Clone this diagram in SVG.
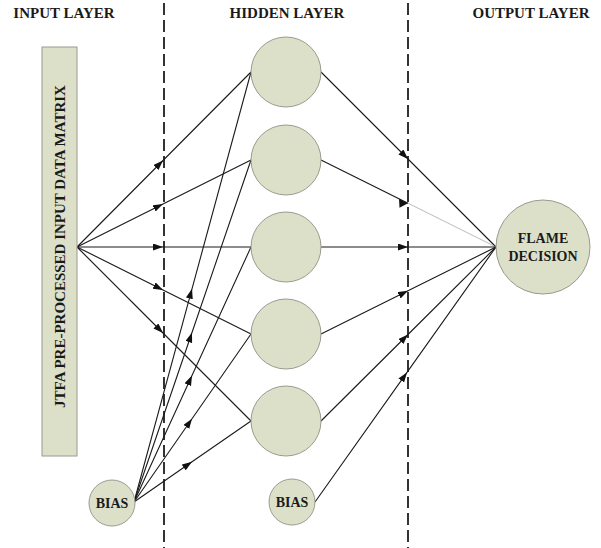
<svg xmlns="http://www.w3.org/2000/svg" width="601" height="548" viewBox="0 0 601 548">
<style>
  .hdr{font-family:"Liberation Serif","Times New Roman",serif;font-weight:bold;font-size:15px;fill:#1a1a1a;text-anchor:middle}
  .lbl{font-family:"Liberation Serif","Times New Roman",serif;font-weight:bold;font-size:14px;fill:#1a1a1a;text-anchor:middle}
  .node{fill:#dde0c9;stroke:#9a9a90;stroke-width:1}
  .dash{stroke:#333;stroke-width:2;stroke-dasharray:12 5;fill:none}
  .con{stroke:#1a1a1a;stroke-width:1.1;fill:none;marker-mid:url(#ah)}
</style>
<defs>
  <marker id="ah" markerUnits="userSpaceOnUse" markerWidth="11" markerHeight="8" refX="10" refY="3.5" orient="auto">
    <path d="M0,0 L10,3.5 L0,7 z" fill="#111"/>
  </marker>
</defs>
<rect width="601" height="548" fill="#fff"/>
<g id="headers">
  <text class="hdr" x="64" y="18">INPUT LAYER</text>
  <text class="hdr" x="287" y="18">HIDDEN LAYER</text>
  <text class="hdr" x="531" y="18" textLength="117" lengthAdjust="spacingAndGlyphs">OUTPUT LAYER</text>
</g>
<g id="dividers">
  <line class="dash" x1="164" y1="3" x2="164" y2="548"/>
  <line class="dash" x1="408" y1="3" x2="408" y2="548"/>
</g>
<g id="connectors">
  <path class="con" d="M77,247 L163,160.5 L251,72"/>
  <path class="con" d="M77,247 L163,204 L251,160"/>
  <path class="con" d="M77,247 L163,247 L251,247" stroke="#444" stroke-width="1.5"/>
  <path class="con" d="M77,247 L163,290 L251,334"/>
  <path class="con" d="M77,247 L163,333 L251,421"/>
  <path class="con" d="M134,502 L192,288.8 L251,72"/>
  <path class="con" d="M134,502 L192,332.5 L251,160"/>
  <path class="con" d="M134,502 L192,375.6 L251,247"/>
  <path class="con" d="M134,502 L192,418.7 L251,334"/>
  <path class="con" d="M134,502 L192,461.8 L251,421"/>
  <path class="con" d="M321,72 L408,159 L496,247"/>
  <path class="con" d="M321,160 L408,203.2" stroke="#555" stroke-width="0.9"/>
  <path d="M399,198.7 L408,203.2 L399.5,207.8 z" fill="#111"/>
  <path d="M408,203.2 L496,247" stroke="#aaa" stroke-width="0.8" fill="none"/>
  <path class="con" d="M321,247 L408,247 L496,247" stroke="#444" stroke-width="1.5"/>
  <path class="con" d="M321,334 L408,290.8 L496,247"/>
  <path class="con" d="M321,421 L408,334.5 L496,247"/>
  <path class="con" d="M315,502 L407,372.4 L496,247"/>
</g>
<g id="input-matrix">
  <rect class="node" x="42" y="47" width="35" height="409"/>
  <text class="lbl" font-size="15" style="font-size:15px" transform="translate(64.5,246.5) rotate(-90)">JTFA PRE-PROCESSED INPUT DATA MATRIX</text>
</g>
<g id="input-bias">
  <circle class="node" cx="112" cy="503" r="23"/>
  <text class="lbl" x="112" y="508">BIAS</text>
</g>
<g id="hidden-1"><circle class="node" cx="286" cy="72" r="35"/></g>
<g id="hidden-2"><circle class="node" cx="286" cy="160" r="35"/></g>
<g id="hidden-3"><circle class="node" cx="286" cy="247" r="35"/></g>
<g id="hidden-4"><circle class="node" cx="286" cy="334" r="35"/></g>
<g id="hidden-5"><circle class="node" cx="286" cy="421" r="35"/></g>
<g id="hidden-bias">
  <circle class="node" cx="292" cy="502" r="23"/>
  <text class="lbl" x="292" y="507">BIAS</text>
</g>
<g id="output">
  <circle class="node" cx="543" cy="247" r="47"/>
  <text class="lbl" x="543" y="243">FLAME</text>
  <text class="lbl" x="543" y="261">DECISION</text>
</g>
</svg>
